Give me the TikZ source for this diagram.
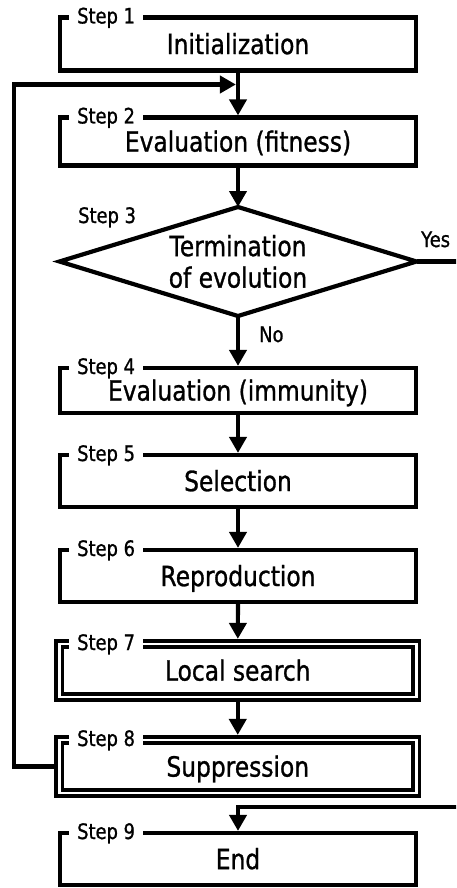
\documentclass[tikz,border=0pt]{standalone}
\usepackage{fontspec}
\setmainfont{DejaVu Sans}[FakeStretch=0.84, FakeBold=1]
\usetikzlibrary{arrows.meta,shapes.geometric,calc}

\newcommand\stepmain{\fontsize{27.8}{31.5}\selectfont}
\newcommand\stepsmall{\fontsize{21.3}{25}\selectfont}

\tikzset{
  box/.style={draw, line width=4.2pt, minimum width=356pt, inner sep=0pt,
    text height=20.2pt, text depth=0pt, font=\stepmain},
  dbox/.style={draw, line width=3.7pt, double=white, double distance=2.8pt,
    minimum width=357pt, inner sep=0pt, outer sep=5.1pt,
    text height=20.2pt, text depth=0pt, font=\stepmain},
  decision/.style={draw, diamond, aspect=3.27, line width=4.2pt, minimum width=357pt,
    minimum height=109pt, inner sep=0pt, outer sep=0pt, align=center, font=\stepmain},
  steplabel/.style={fill=white, inner xsep=8pt, inner ysep=1pt, anchor=base west, font=\stepsmall},
  plainlabel/.style={inner sep=0pt, anchor=base west, font=\stepsmall},
  conn/.style={line width=4.2pt, -{Triangle[length=16pt,width=17pt]}},
}

\begin{document}
\begin{tikzpicture}[x=1pt, y=-1pt]
  \useasboundingbox (0,0) rectangle (456,888);
  \fill[white] (0,0) rectangle (456,888);
  \clip (0,0) rectangle (456,888);

  % process steps
  \node[box, minimum height=53pt] (b1) at (238,44) {Initialization};
  \node[box, minimum height=48pt] (b2) at (238,141.5) {Evaluation (fitness)};
  \node[decision] (d3) at (238,261.5) {Termination\\of evolution};
  \node[box, minimum height=45pt] (b4) at (238,390.5) {Evaluation (immunity)};
  \node[box, minimum height=52pt] (b5) at (238,481) {Selection};
  \node[box, minimum height=52pt] (b6) at (238,576) {Reproduction};
  \node[dbox, minimum height=53pt] (b7) at (237.75,670.5) {Local search};
  \node[dbox, minimum height=53pt] (b8) at (237.75,766.5) {Suppression};
  \node[box, minimum height=52pt] (b9) at (238,859) {End};

  % step captions sitting on the top borders
  \node[steplabel] (s1) at (69,23.5) {Step 1};
  \node[steplabel] (s2) at (69,123.5) {Step 2};
  \node[plainlabel] (s3) at (78,223) {Step 3};
  \node[steplabel] (s4) at (69,374) {Step 4};
  \node[steplabel] (s5) at (69,461) {Step 5};
  \node[steplabel] (s6) at (69,556) {Step 6};
  \node[steplabel] (s7) at (69,650) {Step 7};
  \node[steplabel] (s8) at (69,746) {Step 8};
  \node[steplabel] (s9) at (69,839) {Step 9};

  % branch labels
  \node[plainlabel] (yes) at (421,247) {Yes};
  \node[plainlabel] (no) at (259,342) {No};

  % main flow
  \draw[conn] (b1) -- (b2);
  \draw[conn] (b2) -- (d3.north);
  \draw[conn] (d3.south) -- (b4);
  \draw[conn] (b4) -- (b5);
  \draw[conn] (b5) -- (b6);
  \draw[conn] (b6) -- (b7);
  \draw[conn] (b7) -- (b8);

  % loop back to the evaluation step
  \coordinate (join) at (235.9,84.5);
  \draw[conn] (b8.west) -| (14,84.5) -- (join);

  % exit towards the end step
  \draw[conn] (d3.east) -- (475,261.5) -- (475,807) -| (b9.north);
\end{tikzpicture}
\end{document}
